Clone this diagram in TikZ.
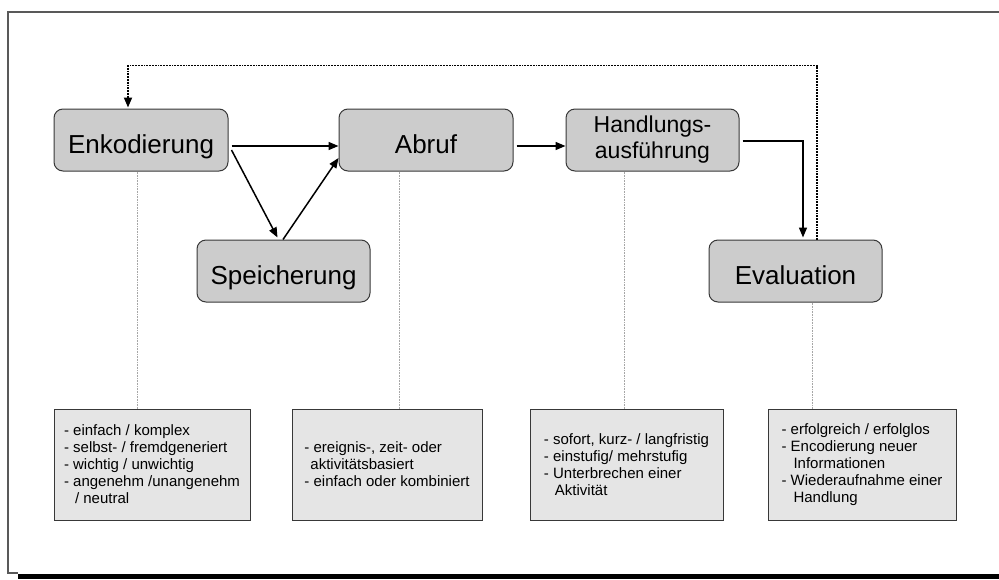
\documentclass[tikz,border=0pt]{standalone}
\usepackage{fontspec}
\setmainfont{Liberation Sans}
\usetikzlibrary{arrows.meta}
\definecolor{stepfill}{gray}{0.80}
\definecolor{notefill}{gray}{0.90}
\definecolor{edgegray}{gray}{0.22}
\definecolor{framegray}{gray}{0.35}
\definecolor{guidegray}{gray}{0.65}
\newcommand{\noteindent}[1][11pt]{\hspace*{#1}}
\begin{document}
\begin{tikzpicture}[x=1pt,y=-1pt,
  stepbase/.style={draw=edgegray, line width=1pt, fill=stepfill, rounded corners=9pt,
    minimum height=62pt, inner sep=0pt},
  stepbox/.style={stepbase, minimum width=174pt, font=\fontsize{26}{30}\selectfont,
    text height=26pt, text depth=0pt},
  twoline/.style={stepbase, minimum width=173pt, align=center,
    font=\fontsize{23}{26}\selectfont},
  notebox/.style={draw=edgegray, line width=0.8pt, fill=notefill, minimum height=111pt,
    inner sep=0pt, align=left, font=\fontsize{15}{17}\selectfont},
  arr/.style={line width=1.5pt, -{Triangle[length=10pt,width=8pt]}},
  feedback/.style={line width=1.8pt, dash pattern=on 1.8pt off 1pt,
    -{Triangle[length=10pt,width=8pt]}},
  guide/.style={guidegray, line width=0.6pt, densely dotted}]

\useasboundingbox (0,0) rectangle (999,579);

% outer frame with its drop shadow
\fill[black] (18,573.5) rectangle (999,579);
\draw[framegray, line width=1.4pt] (18,573) -- (8,573) -- (8,12) -- (999,12);

% process steps
\node[stepbox] (enk) at (141,140) {Enkodierung};
\node[stepbox] (abr) at (426,140) {Abruf};
\node[stepbox, minimum width=173pt] (spe) at (283.5,271) {Speicherung};
\node[twoline] (han) at (652.5,140) {Handlungs-\\ausführung};
\node[stepbox, minimum width=173pt] (eva) at (795.5,271) {Evaluation};

% characteristics of each step
\node[notebox, minimum width=196pt] (n1) at (152,464.5)
  {- einfach / komplex\\- selbst- / fremdgeneriert\\- wichtig / unwichtig\\- angenehm /unangenehm\\\noteindent/ neutral};
\node[notebox, minimum width=190pt] (n2) at (387,464.5)
  {- ereignis-, zeit- oder\\\noteindent[6pt]aktivitätsbasiert\\- einfach oder kombiniert};
\node[notebox, minimum width=193pt] (n3) at (626.5,464.5)
  {- sofort, kurz- / langfristig\\- einstufig/ mehrstufig\\- Unterbrechen einer\\\noteindent Aktivität};
\node[notebox, minimum width=188pt] (n4) at (862,464.5)
  {- erfolgreich / erfolglos\\- Encodierung neuer\\\noteindent[12pt]Informationen\\- Wiederaufnahme einer\\\noteindent[12pt]Handlung};

% guides from steps to their notes
\coordinate (g1) at ([xshift=-4pt]enk.south);
\coordinate (g2) at ([xshift=-27pt]abr.south);
\coordinate (g3) at ([xshift=-28.5pt]han.south);
\coordinate (g4) at ([xshift=16.5pt]eva.south);
\draw[guide] (g1) -- (n1.north -| g1);
\draw[guide] (g2) -- (n2.north -| g2);
\draw[guide] (g3) -- (n3.north -| g3);
\draw[guide] (g4) -- (n4.north -| g4);

% flow between steps
\draw[arr] ([xshift=3pt,yshift=-6pt]enk.east) -- ([yshift=-6pt]abr.west);
\draw[arr] ([xshift=3pt,yshift=-10pt]enk.east) -- ([xshift=-6pt,yshift=2pt]spe.north);
\draw[arr] ([xshift=-0.5pt]spe.north) -- ([yshift=-18pt]abr.west);
\draw[arr] ([xshift=3pt,yshift=-6pt]abr.east) -- ([yshift=-6pt]han.west);
\draw[arr] ([xshift=3pt,yshift=-1pt]han.east) -| ([xshift=7.5pt,yshift=2pt]eva.north);

% feedback loop back to encoding
\coordinate (fbstart) at ([xshift=21.5pt]eva.north);
\draw[feedback] (fbstart) -- ++(0,-174) -| ([xshift=-13pt,yshift=1pt]enk.north);
\end{tikzpicture}
\end{document}
